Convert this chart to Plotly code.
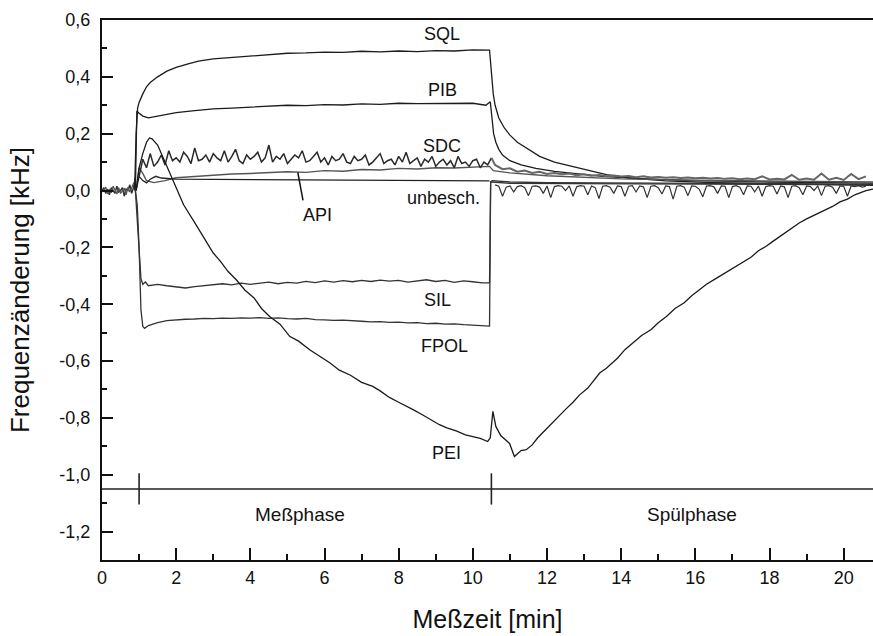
import numpy as np
import plotly.graph_objects as go

# ---------------- data ----------------
X_RANGE = [0, 20.79]
Y_RANGE = [-1.3, 0.6]

# common pre-phase baseline (0 .. ~0.9 min), step 0.05
base_start, base_step = 0.0, 0.05
base_a = [0.0, 0.01, -0.01, 0.005, -0.015, 0.01, 0.0, -0.01, 0.015, -0.005,
          0.0, 0.01, -0.02, 0.005, 0.0, 0.02, -0.01, 0.01, 0.045]
base_b = [-0.005, 0.0, 0.012, -0.012, 0.005, -0.008, 0.015, 0.0, -0.012, 0.01,
          -0.01, 0.0, 0.008, -0.015, 0.012, -0.005, 0.01, 0.025, 0.03]

# SQL
sql_x = [0.88, 0.92, 0.96, 1.0, 1.1, 1.2, 1.3, 1.5, 1.75, 2.0, 2.3, 2.6, 3.0, 3.5,
         4.0, 4.5, 5.0, 5.5, 6.0, 6.5, 7.0, 7.5, 8.0, 8.5, 9.0, 9.5, 10.0, 10.45,
         10.5, 10.55, 10.6, 10.7, 10.85, 11.0, 11.2, 11.5, 11.8, 12.2, 12.7, 13.2,
         13.6, 14.2, 15.2, 16.5, 18.0, 19.5, 20.79]
sql_y = [0.0, 0.2, 0.29, 0.31, 0.34, 0.365, 0.38, 0.4, 0.42, 0.433, 0.445, 0.455,
         0.463, 0.468, 0.475, 0.478, 0.483, 0.484, 0.487, 0.486, 0.49, 0.488, 0.491,
         0.489, 0.492, 0.491, 0.495, 0.494, 0.42, 0.34, 0.3, 0.255, 0.22, 0.195, 0.17,
         0.145, 0.12, 0.1, 0.084, 0.068, 0.056, 0.045, 0.034, 0.028, 0.024, 0.02, 0.018]

# PIB
pib_x = [0.9, 0.94, 1.0, 1.1, 1.25, 1.5, 2.0, 2.5, 3.0, 3.5, 4.0, 4.5, 5.0, 5.5, 6.0,
         6.5, 7.0, 7.5, 8.0, 8.5, 9.0, 9.5, 10.0, 10.35, 10.47, 10.52, 10.56, 10.62,
         10.7, 10.8, 11.0, 11.3, 11.7, 12.2, 12.8, 13.5, 14.5, 16.0, 18.0, 20.79]
pib_y = [0.0, 0.28, 0.272, 0.262, 0.256, 0.262, 0.274, 0.281, 0.287, 0.29, 0.294, 0.296,
         0.3, 0.299, 0.302, 0.301, 0.305, 0.303, 0.307, 0.306, 0.306, 0.305, 0.307, 0.3,
         0.312, 0.25, 0.2, 0.17, 0.145, 0.125, 0.105, 0.09, 0.078, 0.067, 0.058, 0.05,
         0.042, 0.035, 0.03, 0.026]

# SDC (noisy), measuring phase sampled every 0.1 min from 1.0
sdc1_start, sdc1_step = 1.0, 0.1
sdc1_y = [0.05, 0.11, 0.08, 0.13, 0.085, 0.10, 0.125, 0.09, 0.14, 0.105,
          0.115, 0.10, 0.135, 0.12, 0.095, 0.15, 0.105, 0.11, 0.125, 0.10,
          0.13, 0.115, 0.105, 0.14, 0.10, 0.12, 0.145, 0.105, 0.095, 0.125,
          0.11, 0.12, 0.135, 0.10, 0.115, 0.16, 0.10, 0.12, 0.11, 0.13,
          0.095, 0.11, 0.125, 0.115, 0.14, 0.10, 0.105, 0.12, 0.135, 0.10,
          0.115, 0.09, 0.12, 0.105, 0.11, 0.13, 0.10, 0.095, 0.12, 0.105,
          0.11, 0.125, 0.09, 0.10, 0.115, 0.13, 0.095, 0.105, 0.11, 0.09,
          0.12, 0.10, 0.135, 0.095, 0.105, 0.115, 0.085, 0.11, 0.10, 0.12,
          0.085, 0.10, 0.11, 0.09, 0.105, 0.08, 0.12, 0.095, 0.10, 0.085,
          0.105, 0.11, 0.08, 0.10, 0.09, 0.115]
# SDC rinsing phase sampled every 0.2 min from 10.6
sdc2_start, sdc2_step = 10.6, 0.2
sdc2_y = [0.09, 0.075, 0.078, 0.066, 0.07, 0.062, 0.066, 0.058, 0.062, 0.057,
          0.06, 0.054, 0.057, 0.052, 0.055, 0.05, 0.053, 0.049, 0.051, 0.047,
          0.05, 0.046, 0.048, 0.045, 0.047, 0.044, 0.046, 0.043, 0.045, 0.042,
          0.044, 0.041, 0.043, 0.04, 0.042, 0.04, 0.05, 0.039, 0.041, 0.039,
          0.055, 0.038, 0.042, 0.038, 0.06, 0.038, 0.045, 0.037, 0.058, 0.04, 0.05]

# API
api_x = [0.92, 1.0, 1.1, 1.2, 1.4, 1.7, 2.0, 2.5, 3.0, 3.5, 4.0, 4.5, 5.0, 5.5, 6.0,
         6.5, 7.0, 7.5, 8.0, 8.5, 9.0, 9.5, 10.0, 10.45, 10.55, 11.0, 12.0, 13.0,
         14.0, 16.0, 18.0, 20.79]
api_y = [0.0, 0.08, 0.06, 0.035, 0.028, 0.035, 0.045, 0.05, 0.053, 0.058, 0.06, 0.062,
         0.066, 0.064, 0.07, 0.068, 0.074, 0.072, 0.078, 0.076, 0.08, 0.079, 0.083,
         0.085, 0.07, 0.062, 0.052, 0.046, 0.041, 0.036, 0.033, 0.03]

# uncoated reference ("unbesch.")
unb_x = [0.92, 1.0, 1.1, 1.2, 1.3, 1.45, 1.6, 2.0, 3.0, 4.0, 5.0, 6.0, 7.0, 8.0, 9.0,
         10.0, 10.45]
unb_y = [0.0, 0.05, 0.035, 0.027, 0.04, 0.05, 0.044, 0.04, 0.039, 0.038, 0.037, 0.037,
         0.036, 0.035, 0.035, 0.034, 0.034]
unb2_start, unb2_step = 10.6, 0.1
unb2_y = [0.02, 0.015, -0.02, 0.012, 0.016, -0.005, 0.014, 0.017, 0.01, -0.018,
          0.015, 0.016, 0.012, -0.01, 0.016, -0.025, 0.014, 0.017, 0.015, 0.0,
          0.016, -0.02, 0.013, 0.017, 0.015, -0.015, 0.016, 0.01, -0.028, 0.015,
          0.017, 0.012, -0.01, 0.016, 0.014, -0.02, 0.015, 0.017, -0.005, 0.016,
          0.013, -0.025, 0.015, 0.017, 0.01, -0.012, 0.016, 0.014, -0.03, 0.015,
          0.017, 0.012, -0.018, 0.016, 0.015, 0.005, -0.022, 0.016, 0.017, 0.013,
          -0.01, 0.016, 0.015, -0.025, 0.014, 0.017, 0.012, -0.015, 0.016, 0.015,
          -0.005, 0.016, -0.02, 0.014, 0.017, 0.015, -0.012, 0.016, 0.013, -0.025,
          0.015, 0.017, 0.01, -0.015, 0.016, 0.014, 0.0, 0.016, -0.018, 0.015,
          0.017, 0.012, -0.01, 0.016, 0.015, -0.02, 0.016, 0.014, 0.017, 0.012, 0.015]

# SIL and FPOL share a flat-part sampling grid (1.25 .. 10.25, every 0.25 min)
flat_start, flat_step = 1.25, 0.25
sil_head_x = [0.9, 0.95, 1.0, 1.05, 1.1, 1.17]
sil_head_y = [0.0, -0.1, -0.22, -0.31, -0.33, -0.322]
sil_flat_y = [-0.335, -0.33, -0.335, -0.34, -0.343, -0.338, -0.335, -0.33, -0.328, -0.332,
              -0.326, -0.33, -0.325, -0.322, -0.328, -0.323, -0.326, -0.32, -0.324, -0.318,
              -0.322, -0.317, -0.321, -0.316, -0.32, -0.315, -0.319, -0.316, -0.322, -0.318,
              -0.314, -0.32, -0.316, -0.323, -0.318, -0.321, -0.325]
sil_tail_x = [10.45, 10.48, 10.52, 11.0, 12.0, 14.0, 16.0, 18.0, 20.79]
sil_tail_y = [-0.325, 0.03, 0.035, 0.03, 0.028, 0.026, 0.025, 0.024, 0.022]

fpol_head_x = [0.9, 0.95, 1.0, 1.05, 1.1, 1.15]
fpol_head_y = [0.0, -0.05, -0.2, -0.42, -0.478, -0.485]
fpol_flat_y = [-0.475, -0.465, -0.458, -0.455, -0.453, -0.452, -0.45, -0.451, -0.449, -0.45,
               -0.448, -0.449, -0.447, -0.45, -0.448, -0.451, -0.452, -0.45, -0.454, -0.455,
               -0.457, -0.456, -0.459, -0.46, -0.462, -0.461, -0.464, -0.463, -0.466, -0.465,
               -0.468, -0.467, -0.47, -0.469, -0.472, -0.474, -0.476]
fpol_tail_x = [10.45, 10.48, 10.52, 11.0, 20.79]
fpol_tail_y = [-0.477, 0.03, 0.03, 0.025, 0.02]

# PEI
pei_x = [0.92, 1.0, 1.1, 1.2, 1.28, 1.35, 1.5, 1.7, 1.96, 2.2, 2.5, 2.76, 3.0, 3.2, 3.4,
         3.62, 3.85, 4.1, 4.3, 4.52, 4.8, 5.06, 5.3, 5.6, 5.85, 6.14, 6.4, 6.7, 7.0, 7.3,
         7.5, 7.75, 8.0, 8.2, 8.4, 8.65, 8.9, 9.1, 9.3, 9.55, 9.8, 10.0, 10.2, 10.4,
         10.47, 10.54, 10.62, 10.75, 10.99, 11.12, 11.3, 11.44, 11.6, 11.75, 11.9,
         12.07, 12.3, 12.5, 12.7, 12.88, 13.1, 13.42, 13.6, 13.9, 14.1, 14.31, 14.55,
         14.8, 15.0, 15.22, 15.45, 15.7, 15.9, 16.11, 16.3, 16.55, 16.8, 17.01, 17.25,
         17.5, 17.7, 17.91, 18.1, 18.35, 18.6, 18.8, 19.0, 19.25, 19.5, 19.7, 19.9, 20.1,
         20.3, 20.43, 20.6, 20.79]
pei_y = [0.0, 0.08, 0.13, 0.17, 0.185, 0.182, 0.16, 0.1, 0.017, -0.05, -0.113, -0.17,
         -0.22, -0.25, -0.285, -0.314, -0.35, -0.378, -0.415, -0.443, -0.47, -0.513, -0.53,
         -0.56, -0.58, -0.606, -0.632, -0.65, -0.675, -0.689, -0.705, -0.728, -0.745,
         -0.76, -0.772, -0.79, -0.81, -0.824, -0.835, -0.846, -0.86, -0.866, -0.872,
         -0.883, -0.87, -0.777, -0.83, -0.862, -0.89, -0.936, -0.915, -0.912, -0.895,
         -0.87, -0.85, -0.824, -0.795, -0.77, -0.745, -0.719, -0.695, -0.642, -0.625,
         -0.59, -0.56, -0.537, -0.51, -0.49, -0.465, -0.443, -0.415, -0.395, -0.37,
         -0.349, -0.33, -0.31, -0.29, -0.273, -0.255, -0.235, -0.212, -0.196, -0.178,
         -0.155, -0.135, -0.114, -0.1, -0.085, -0.07, -0.056, -0.04, -0.03, -0.015,
         -0.008, 0.0, 0.005]

# phase bar
phase_line_y = -1.05
phase_bounds = [1.0, 10.5]
phase_tick_half = 0.055
phase_names = ["Meßphase", "Spülphase"]
phase_label_x = [5.35, 15.9]
phase_label_y = -1.14

# curve labels
label_text = ["SQL", "PIB", "SDC", "unbesch.", "API", "SIL", "FPOL", "PEI"]
label_x = [9.18, 9.18, 9.18, 9.22, 5.8, 9.05, 9.24, 9.28]
label_y = [0.55, 0.355, 0.155, -0.025, -0.085, -0.384, -0.548, -0.923]
api_pointer = [5.42, -0.035, 5.28, 0.064]

y_tickvals = [0.6, 0.4, 0.2, 0.0, -0.2, -0.4, -0.6, -0.8, -1.0, -1.2]
y_ticktext = ["0,6", "0,4", "0,2", "0,0", "-0,2", "-0,4", "-0,6", "-0,8", "-1,0", "-1,2"]
x_tickvals = [0, 2, 4, 6, 8, 10, 12, 14, 16, 18, 20]

# ---------------- build figure ----------------
def grid(start, step, n):
    return [round(start + step * i, 4) for i in range(n)]

FONT = "Liberation Sans, Arial, sans-serif"
fig = go.Figure()

def add(x, y, color="#1c1c1c", width=1.3):
    fig.add_trace(go.Scatter(x=x, y=y, mode="lines", showlegend=False,
                             line=dict(color=color, width=width), hoverinfo="skip"))

add(grid(base_start, base_step, len(base_a)), base_a, "#333", 1.5)
add(grid(base_start, base_step, len(base_b)), base_b, "#555", 1.3)
add(sql_x, sql_y)
add(pib_x, pib_y)
add(api_x, api_y, "#555", 1.4)
add(unb_x, unb_y, "#222", 1.3)
add(grid(unb2_start, unb2_step, len(unb2_y)), unb2_y, "#333", 1.2)
add(grid(sdc1_start, sdc1_step, len(sdc1_y)), sdc1_y, "#2a2a2a", 1.5)
add([10.5] + grid(sdc2_start, sdc2_step, len(sdc2_y)), [0.115] + sdc2_y, "#666", 2.0)
t_flat = grid(flat_start, flat_step, len(sil_flat_y))
add(sil_head_x + t_flat + sil_tail_x, sil_head_y + sil_flat_y + sil_tail_y, "#333", 1.3)
add(fpol_head_x + t_flat + fpol_tail_x, fpol_head_y + fpol_flat_y + fpol_tail_y, "#333", 1.3)
add(pei_x, pei_y, "#1a1a1a", 1.3)

# phase bar
add(X_RANGE, [phase_line_y, phase_line_y], "#222", 1.6)
for b in phase_bounds:
    add([b, b], [phase_line_y + phase_tick_half, phase_line_y - phase_tick_half], "#222", 1.6)

for name, px in zip(phase_names, phase_label_x):
    fig.add_annotation(x=px, y=phase_label_y, text=name, showarrow=False,
                       font=dict(family=FONT, size=19, color="#111"))

for t, lx, ly in zip(label_text, label_x, label_y):
    fig.add_annotation(x=lx, y=ly, text=t, showarrow=False,
                       font=dict(family=FONT, size=18, color="#111"))

fig.add_shape(type="line", xref="x", yref="y",
              x0=api_pointer[0], y0=api_pointer[1], x1=api_pointer[2], y1=api_pointer[3],
              line=dict(color="#111", width=1.5))

fig.update_xaxes(range=X_RANGE, showgrid=False, zeroline=False,
                 showline=True, linecolor="#111", linewidth=2.2, mirror=True,
                 ticks="inside", ticklen=12, tickwidth=1.8, tickcolor="#111",
                 tickvals=x_tickvals, ticktext=[str(v) for v in x_tickvals],
                 tickfont=dict(family=FONT, size=18, color="#111"),
                 minor=dict(dtick=1, ticks="inside", ticklen=6, tickwidth=1.5, tickcolor="#111"),
                 title=dict(text="Meßzeit [min]", font=dict(family=FONT, size=25, color="#111"),
                            standoff=24))
fig.update_yaxes(range=Y_RANGE, showgrid=False, zeroline=False,
                 showline=True, linecolor="#111", linewidth=2.4,
                 ticks="inside", ticklen=11, tickwidth=1.8, tickcolor="#111",
                 tickvals=y_tickvals, ticktext=y_ticktext, ticklabelstandoff=6,
                 tickfont=dict(family=FONT, size=18, color="#111"),
                 minor=dict(dtick=0.1, ticks="inside", ticklen=5, tickwidth=1.5, tickcolor="#111"),
                 title=dict(text="Frequenzänderung [kHz]",
                            font=dict(family=FONT, size=26, color="#111"), standoff=22))

fig.update_layout(width=873, height=636, paper_bgcolor="white", plot_bgcolor="white",
                  margin=dict(l=102, r=0, t=20, b=76, autoexpand=False), showlegend=False)

fig.write_html("out.html")
